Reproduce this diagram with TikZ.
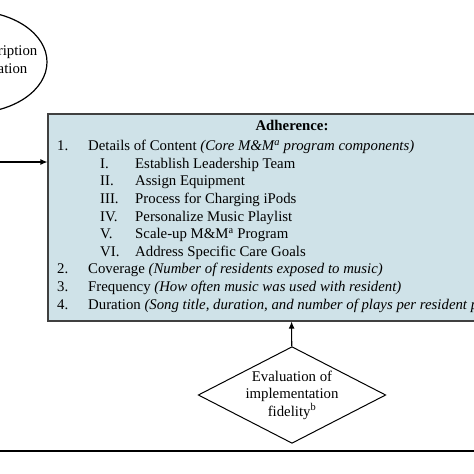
\documentclass[tikz,border=0pt]{standalone}
\usepackage{fontspec}
\setmainfont{Liberation Serif}
\usetikzlibrary{shapes.geometric, arrows.meta}

\definecolor{boxblue}{RGB}{207,226,232}

\tikzset{
  line/.style={text height=0.72em, text depth=0.22em, inner sep=0pt, anchor=west},
  conn/.style={-{Latex[length=7pt,width=6pt]}, line width=1.1pt}
}

\begin{document}
\fontsize{14.8}{17.6}\selectfont
\begin{tikzpicture}[x=1pt, y=-1pt]
    \useasboundingbox (0,0) rectangle (474,474);

    \node[ellipse, draw, line width=1.2pt, minimum width=150, minimum height=102] (descr) at (-28, 62) {};
    \node[line, anchor=east] (descra) at (37.5, 52) {ription};
    \node[line, anchor=east] (descrb) at (27.5, 70) {ation};

    \node[rectangle, draw=black!75, line width=1.1pt, fill=boxblue, minimum width=486, minimum height=207] (adh) at (291, 217.5) {};

    \node[line, anchor=center, font=\bfseries] (title) at (292, 127) {Adherence:};
    \node[line] (n1) at (57, 147) {1.};
    \node[line] (t1) at (88, 147) {Details of Content \textit{(Core M\&M\textsuperscript{a} program components)}};
    \foreach \r/\txt [count=\i] in {I./Establish Leadership Team, II./Assign Equipment,
        III./Process for Charging iPods, IV./Personalize Music Playlist,
        V./Scale-up M\&M\textsuperscript{a} Program, VI./Address Specific Care Goals} {
      \node[line] (r\i) at (100, 147+17.6*\i) {\r};
      \node[line] (s\i) at (135, 147+17.6*\i) {\txt};
    }
    \node[line] (n2) at (57, 270.2) {2.};
    \node[line] (t2) at (88, 270.2) {Coverage \textit{(Number of residents exposed to music)}};
    \node[line] (n3) at (57, 287.8) {3.};
    \node[line] (t3) at (88, 287.8) {Frequency \textit{(How often music was used with resident)}};
    \node[line] (n4) at (57, 305.4) {4.};
    \node[line] (t4) at (88, 305.4) {Duration \textit{(Song title, duration, and number of plays per resident p}};

    \node[diamond, draw, line width=1pt, aspect=1.94, minimum width=165, minimum height=85, inner sep=0pt, align=center] (fid) at (292, 395)
      {Evaluation of\\implementation\\fidelity\textsuperscript{b}};

    \coordinate (inlet) at (0, 162);
    \coordinate (baseL) at (0, 451);
    \coordinate (baseR) at (474, 451);

    \draw[conn] (inlet) -- (inlet -| adh.west);
    \draw[conn] (fid) -- (adh);
    \draw[line width=1.5pt] (baseL) -- (baseR);
\end{tikzpicture}
\end{document}
